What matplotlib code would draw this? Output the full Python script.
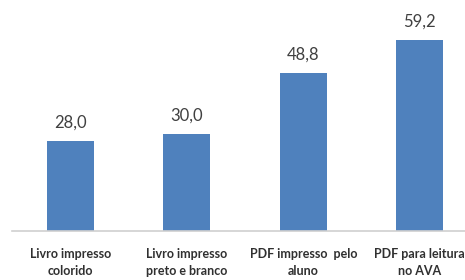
import matplotlib
matplotlib.use("Agg")
import matplotlib.pyplot as plt

categories = ["Livro impresso\ncolorido", "Livro impresso\npreto e branco",
              "PDF impresso  pelo\naluno", "PDF para leitura\nno AVA"]
values = [28.0, 30.0, 48.8, 59.2]
value_labels = ["28,0", "30,0", "48,8", "59,2"]

fig = plt.figure(figsize=(4.65, 2.8), dpi=100)
ax = fig.add_axes([12/465, 49/280, 466/465, 226/280])
x = list(range(len(categories)))
bars = ax.bar(x, values, width=0.4, color="#4f81bd")
ax.set_xlim(-0.5, 3.5)
ax.set_ylim(0, 70)
for xi, v, lab in zip(x, values, value_labels):
    ax.annotate(lab, (xi, v), xytext=(0, 7.5), textcoords="offset points",
                ha="center", va="bottom", fontsize=12, color="#404040",
                family="Lato")
for s in ["top", "right", "left"]:
    ax.spines[s].set_visible(False)
ax.spines["bottom"].set_color("#d0d0d0")
ax.spines["bottom"].set_linewidth(1.2)
ax.set_yticks([])
ax.set_xticks(x)
ax.set_xticklabels(categories, fontsize=9, fontweight="bold", family="Lato",
                   color="#303030", linespacing=1.55, multialignment="center")
ax.tick_params(axis="x", length=0, pad=12)
fig.savefig("out.png", dpi=100)
